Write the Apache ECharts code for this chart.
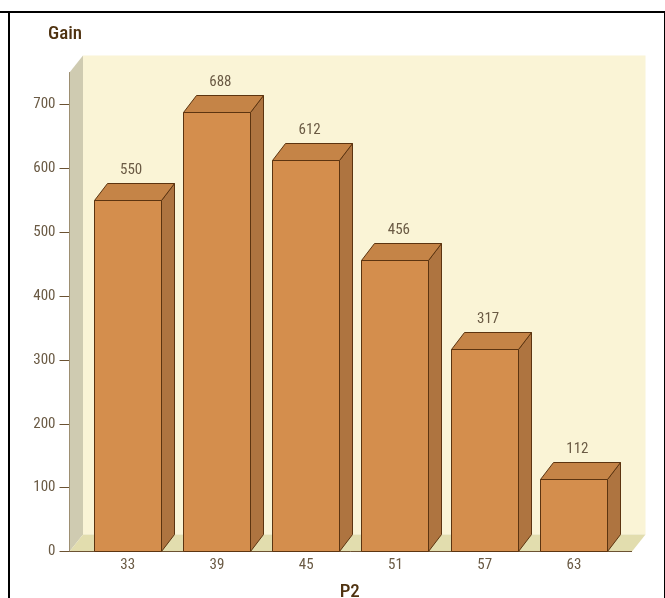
<!DOCTYPE html>
<html>
<head>
<meta charset="utf-8">
<style>html,body{margin:0;padding:0;background:#fff}#chart{width:665px;height:598px}</style>
<script src="https://cdn.jsdelivr.net/npm/echarts@6/dist/echarts.min.js"></script>
</head>
<body>
<div id="chart"></div>
<script>
// Gain per P2 setting
const categories = ['33', '39', '45', '51', '57', '63'];
const gainValues = [550, 688, 612, 456, 317, 112];
const yTicks = [0, 100, 200, 300, 400, 500, 600, 700];

// Oblique offset of the 3D extrusion, in pixels
const DX = 13, DY = 17;
const FONT = '"Roboto Condensed", "Liberation Sans", Arial, sans-serif';
const OUTLINE = '#5c3410';
const AXIS_COLOR = '#6b5232';
const LABEL_COLOR = '#6a5a44';
const TITLE_COLOR = '#4f3210';

const chart = echarts.init(document.getElementById('chart'), null, { renderer: 'canvas' });

function poly(points, fill, stroke) {
  return {
    type: 'polygon',
    shape: { points: points },
    style: { fill: fill, stroke: stroke || null, lineWidth: stroke ? 1 : 0 }
  };
}

// Snap a coordinate to the pixel centre so outlines stay crisp
function crisp(v) {
  return Math.round(v - 0.5) + 0.5;
}

// Back wall, side wall, floor and front floor edge; the box overhangs the category bands
function renderWalls(params, api) {
  const c = params.coordSys;
  const l = c.x - 13.5, r = c.x + c.width + 13.5, t = c.y, b = c.y + c.height;
  return {
    type: 'group',
    children: [
      poly([[l + 13.5, t - DY], [r + 13.5, t - DY], [r + 13.5, b - DY], [l + 13.5, b - DY]], '#faf4d6'),
      poly([[l, t], [l + 13.5, t - DY], [l + 13.5, b - DY], [l, b]], '#cfcbb1'),
      poly([[l, b], [l + 13.5, b - DY], [r + 13.5, b - DY], [r, b]], '#e2ddae'),
      {
        type: 'line',
        shape: { x1: l, y1: b, x2: r, y2: b },
        style: { stroke: AXIS_COLOR, lineWidth: 1 }
      }
    ]
  };
}

// One extruded column with its value above the top face
function renderColumn(params, api) {
  const idx = api.value(0);
  const val = api.value(1);
  const top = api.coord([idx, val]);
  const base = api.coord([idx, 0]);
  const w = api.size([1, 0])[0] * 0.75;
  const x0 = crisp(top[0] - w / 2), x1 = crisp(top[0] + w / 2);
  const yT = crisp(top[1]), yB = crisp(base[1]);
  return {
    type: 'group',
    children: [
      poly([[x1, yT], [x1 + DX, yT - DY], [x1 + DX, yB - DY], [x1, yB]], '#ae7440', OUTLINE),
      poly([[x0, yT], [x0 + DX, yT - DY], [x1 + DX, yT - DY], [x1, yT]], '#c58447', OUTLINE),
      poly([[x0, yT], [x1, yT], [x1, yB], [x0, yB]], '#d48e4d', OUTLINE),
      {
        type: 'text',
        style: {
          text: String(val),
          x: top[0] + 3.5,
          y: yT - DY - 13,
          align: 'center',
          verticalAlign: 'middle',
          font: '15px ' + FONT,
          fill: LABEL_COLOR
        }
      }
    ]
  };
}

chart.setOption({
  animation: false,
  backgroundColor: '#ffffff',
  grid: { left: 83, top: 72.5, width: 535.5, height: 479, outerBoundsMode: 'none' },
  xAxis: {
    type: 'category',
    data: categories,
    name: 'P2',
    nameLocation: 'middle',
    nameGap: 31,
    nameTextStyle: { fontFamily: FONT, fontSize: 19, fontWeight: 500, color: TITLE_COLOR, padding: [0, 2, 0, 0] },
    axisLine: { show: false },
    axisTick: { show: false },
    axisLabel: { fontFamily: FONT, fontSize: 15, color: LABEL_COLOR, margin: 6 },
    splitLine: { show: false }
  },
  yAxis: {
    type: 'value',
    min: 0,
    max: 750,
    offset: 13.5,
    name: 'Gain',
    nameLocation: 'end',
    nameGap: 29,
    nameTextStyle: { fontFamily: FONT, fontSize: 19, fontWeight: 500, color: TITLE_COLOR, align: 'center', padding: [0, 0, 0, -9] },
    axisLine: { show: true, lineStyle: { color: AXIS_COLOR, width: 1 } },
    axisTick: { show: true, length: 10, customValues: yTicks, lineStyle: { color: AXIS_COLOR } },
    axisLabel: { fontFamily: FONT, fontSize: 15, color: LABEL_COLOR, margin: 14, customValues: yTicks },
    splitLine: { show: false }
  },
  series: [
    {
      type: 'custom',
      name: 'walls',
      coordinateSystem: 'cartesian2d',
      z: 1,
      silent: true,
      data: [[0, 0]],
      clip: false,
      renderItem: renderWalls
    },
    {
      type: 'custom',
      name: 'Gain',
      coordinateSystem: 'cartesian2d',
      z: 3,
      clip: false,
      data: gainValues.map((v, i) => [i, v]),
      encode: { x: 0, y: 1 },
      renderItem: renderColumn
    }
  ],
  // Page frame around the chart
  graphic: [
    { type: 'rect', silent: true, shape: { x: 0, y: 11, width: 665, height: 2 }, style: { fill: '#000' } },
    { type: 'rect', silent: true, shape: { x: 8, y: 11, width: 2, height: 587 }, style: { fill: '#000' } },
    { type: 'rect', silent: true, shape: { x: 664, y: 11, width: 1, height: 587 }, style: { fill: '#000' } }
  ]
});
</script>
</body>
</html>
